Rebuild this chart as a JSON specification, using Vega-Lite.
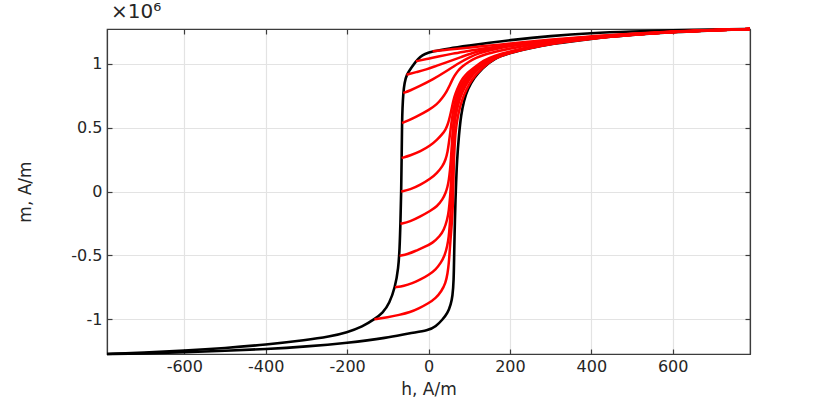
{
  "$schema": "https://vega.github.io/schema/vega-lite/v6.json",
  "width": 643,
  "height": 325,
  "autosize": "none",
  "padding": {"left": 107, "top": 29, "right": 80, "bottom": 44},
  "background": "white",
  "title": {"text": "×10⁶", "anchor": "start", "frame": "group", "fontSize": 20, "font": "DejaVu Sans", "fontWeight": "normal", "color": "#262626", "offset": 2, "dx": 4},
  "datasets": {
    "loop": [
      {"c":"D","h":790,"m":1272000},{"c":"D","h":700,"m":1267000},{"c":"D","h":600,"m":1262000},{"c":"D","h":500,"m":1253000},{"c":"D","h":400,"m":1241000},{"c":"D","h":300,"m":1218000},{"c":"D","h":200,"m":1185000},{"c":"D","h":150,"m":1164000},{"c":"D","h":100,"m":1142000},{"c":"D","h":50,"m":1120000},{"c":"D","h":10,"m":1097000},{"c":"D","h":-10,"m":1076000},{"c":"D","h":-20,"m":1056000},{"c":"D","h":-31,"m":1019000},{"c":"D","h":-42,"m":970000},{"c":"D","h":-54,"m":914000},{"c":"D","h":-59,"m":850000},{"c":"D","h":-62,"m":771000},{"c":"D","h":-64,"m":650000},{"c":"D","h":-65,"m":536000},{"c":"D","h":-66,"m":262000},{"c":"D","h":-67,"m":0},{"c":"D","h":-69,"m":-253000},{"c":"D","h":-71,"m":-450000},{"c":"D","h":-74,"m":-600000},{"c":"D","h":-82,"m":-750000},{"c":"D","h":-96,"m":-875000},{"c":"D","h":-112,"m":-950000},{"c":"D","h":-133,"m":-1000000},{"c":"D","h":-162,"m":-1058000},{"c":"D","h":-200,"m":-1103000},{"c":"D","h":-244,"m":-1136000},{"c":"D","h":-300,"m":-1163000},{"c":"D","h":-400,"m":-1199000},{"c":"D","h":-500,"m":-1226000},{"c":"D","h":-600,"m":-1246000},{"c":"D","h":-700,"m":-1261000},{"c":"D","h":-790,"m":-1272000},
      {"c":"A","h":-790,"m":-1272000},{"c":"A","h":-700,"m":-1268000},{"c":"A","h":-600,"m":-1258000},{"c":"A","h":-500,"m":-1247000},{"c":"A","h":-400,"m":-1234000},{"c":"A","h":-300,"m":-1214000},{"c":"A","h":-200,"m":-1186000},{"c":"A","h":-100,"m":-1145000},{"c":"A","h":-48,"m":-1110000},{"c":"A","h":0,"m":-1088000},{"c":"A","h":18,"m":-1058000},{"c":"A","h":35,"m":-1000000},{"c":"A","h":47,"m":-953000},{"c":"A","h":55,"m":-880000},{"c":"A","h":59,"m":-823000},{"c":"A","h":62,"m":-700000},{"c":"A","h":63,"m":-500000},{"c":"A","h":65,"m":-200000},{"c":"A","h":67,"m":0},{"c":"A","h":70,"m":250000},{"c":"A","h":75,"m":450000},{"c":"A","h":80,"m":600000},{"c":"A","h":87,"m":710000},{"c":"A","h":96,"m":800000},{"c":"A","h":112,"m":890000},{"c":"A","h":132,"m":965000},{"c":"A","h":160,"m":1040000},{"c":"A","h":200,"m":1085000},{"c":"A","h":250,"m":1122000},{"c":"A","h":300,"m":1155000},{"c":"A","h":400,"m":1197000},{"c":"A","h":500,"m":1226000},{"c":"A","h":600,"m":1248000},{"c":"A","h":700,"m":1262000},{"c":"A","h":790,"m":1272000}
    ],
    "forc": [
      {"c":"c1","h":10,"m":1097000},{"c":"c1","h":50,"m":1112000},{"c":"c1","h":92,"m":1124000},{"c":"c1","h":130,"m":1137000},{"c":"c1","h":173,"m":1149000},{"c":"c1","h":220,"m":1165000},{"c":"c1","h":300,"m":1190000},{"c":"c1","h":400,"m":1215000},{"c":"c1","h":500,"m":1236000},{"c":"c1","h":600,"m":1254000},{"c":"c1","h":700,"m":1265000},{"c":"c1","h":790,"m":1272000},
      {"c":"c2","h":-31,"m":1019000},{"c":"c2","h":0,"m":1040000},{"c":"c2","h":26,"m":1058000},{"c":"c2","h":60,"m":1080000},{"c":"c2","h":92,"m":1097000},{"c":"c2","h":130,"m":1118000},{"c":"c2","h":173,"m":1137000},{"c":"c2","h":220,"m":1157000},{"c":"c2","h":300,"m":1185000},{"c":"c2","h":400,"m":1212000},{"c":"c2","h":500,"m":1234000},{"c":"c2","h":600,"m":1252000},{"c":"c2","h":700,"m":1264000},{"c":"c2","h":790,"m":1272000},
      {"c":"c3","h":-54,"m":914000},{"c":"c3","h":-30,"m":935000},{"c":"c3","h":-6,"m":954000},{"c":"c3","h":20,"m":985000},{"c":"c3","h":51,"m":1019000},{"c":"c3","h":80,"m":1052000},{"c":"c3","h":108,"m":1085000},{"c":"c3","h":140,"m":1110000},{"c":"c3","h":173,"m":1130000},{"c":"c3","h":220,"m":1153000},{"c":"c3","h":300,"m":1182000},{"c":"c3","h":400,"m":1210000},{"c":"c3","h":500,"m":1232000},{"c":"c3","h":600,"m":1251000},{"c":"c3","h":700,"m":1264000},{"c":"c3","h":790,"m":1272000},
      {"c":"c4","h":-62,"m":771000},{"c":"c4","h":-45,"m":790000},{"c":"c4","h":-23,"m":823000},{"c":"c4","h":10,"m":875000},{"c":"c4","h":43,"m":940000},{"c":"c4","h":60,"m":975000},{"c":"c4","h":75,"m":1006000},{"c":"c4","h":100,"m":1050000},{"c":"c4","h":124,"m":1083000},{"c":"c4","h":150,"m":1105000},{"c":"c4","h":173,"m":1122000},{"c":"c4","h":220,"m":1148000},{"c":"c4","h":300,"m":1179000},{"c":"c4","h":400,"m":1208000},{"c":"c4","h":500,"m":1231000},{"c":"c4","h":600,"m":1250000},{"c":"c4","h":700,"m":1263000},{"c":"c4","h":790,"m":1272000},
      {"c":"c5","h":-65,"m":536000},{"c":"c5","h":-50,"m":555000},{"c":"c5","h":-31,"m":583000},{"c":"c5","h":2,"m":640000},{"c":"c5","h":20,"m":680000},{"c":"c5","h":34,"m":732000},{"c":"c5","h":45,"m":785000},{"c":"c5","h":51,"m":823000},{"c":"c5","h":57,"m":865000},{"c":"c5","h":63,"m":901000},{"c":"c5","h":72,"m":945000},{"c":"c5","h":83,"m":980000},{"c":"c5","h":100,"m":1017000},{"c":"c5","h":116,"m":1045000},{"c":"c5","h":140,"m":1075000},{"c":"c5","h":173,"m":1100000},{"c":"c5","h":220,"m":1133000},{"c":"c5","h":300,"m":1171000},{"c":"c5","h":400,"m":1204000},{"c":"c5","h":500,"m":1229000},{"c":"c5","h":600,"m":1249000},{"c":"c5","h":700,"m":1263000},{"c":"c5","h":790,"m":1272000},
      {"c":"c6","h":-66,"m":262000},{"c":"c6","h":-45,"m":282000},{"c":"c6","h":-20,"m":313000},{"c":"c6","h":5,"m":360000},{"c":"c6","h":21,"m":405000},{"c":"c6","h":33,"m":445000},{"c":"c6","h":42,"m":484000},{"c":"c6","h":48,"m":530000},{"c":"c6","h":53,"m":590000},{"c":"c6","h":58,"m":666000},{"c":"c6","h":63,"m":740000},{"c":"c6","h":70,"m":797000},{"c":"c6","h":79,"m":865000},{"c":"c6","h":92,"m":920000},{"c":"c6","h":112,"m":970000},{"c":"c6","h":135,"m":1025000},{"c":"c6","h":160,"m":1062000},{"c":"c6","h":200,"m":1097000},{"c":"c6","h":250,"m":1132000},{"c":"c6","h":300,"m":1163000},{"c":"c6","h":400,"m":1202000},{"c":"c6","h":500,"m":1228000},{"c":"c6","h":600,"m":1249000},{"c":"c6","h":700,"m":1263000},{"c":"c6","h":790,"m":1272000},
      {"c":"c7","h":-67,"m":0},{"c":"c7","h":-45,"m":15000},{"c":"c7","h":-20,"m":52000},{"c":"c7","h":5,"m":100000},{"c":"c7","h":21,"m":144000},{"c":"c7","h":35,"m":200000},{"c":"c7","h":42,"m":248000},{"c":"c7","h":47,"m":310000},{"c":"c7","h":50,"m":379000},{"c":"c7","h":53,"m":450000},{"c":"c7","h":56,"m":530000},{"c":"c7","h":59,"m":600000},{"c":"c7","h":63,"m":670000},{"c":"c7","h":69,"m":750000},{"c":"c7","h":77,"m":820000},{"c":"c7","h":90,"m":890000},{"c":"c7","h":110,"m":955000},{"c":"c7","h":135,"m":1012000},{"c":"c7","h":160,"m":1055000},{"c":"c7","h":200,"m":1093000},{"c":"c7","h":250,"m":1130000},{"c":"c7","h":300,"m":1162000},{"c":"c7","h":400,"m":1201000},{"c":"c7","h":500,"m":1228000},{"c":"c7","h":600,"m":1249000},{"c":"c7","h":700,"m":1263000},{"c":"c7","h":790,"m":1272000},
      {"c":"c8","h":-69,"m":-253000},{"c":"c8","h":-45,"m":-235000},{"c":"c8","h":-20,"m":-196000},{"c":"c8","h":5,"m":-150000},{"c":"c8","h":21,"m":-118000},{"c":"c8","h":35,"m":-60000},{"c":"c8","h":42,"m":-13000},{"c":"c8","h":47,"m":40000},{"c":"c8","h":50,"m":90000},{"c":"c8","h":53,"m":170000},{"c":"c8","h":55,"m":250000},{"c":"c8","h":57,"m":350000},{"c":"c8","h":59,"m":450000},{"c":"c8","h":61,"m":530000},{"c":"c8","h":64,"m":610000},{"c":"c8","h":68,"m":690000},{"c":"c8","h":75,"m":775000},{"c":"c8","h":88,"m":860000},{"c":"c8","h":108,"m":940000},{"c":"c8","h":133,"m":1005000},{"c":"c8","h":160,"m":1050000},{"c":"c8","h":200,"m":1091000},{"c":"c8","h":250,"m":1128000},{"c":"c8","h":300,"m":1160000},{"c":"c8","h":400,"m":1200000},{"c":"c8","h":500,"m":1227000},{"c":"c8","h":600,"m":1249000},{"c":"c8","h":700,"m":1263000},{"c":"c8","h":790,"m":1272000},
      {"c":"c9","h":-71,"m":-504000},{"c":"c9","h":-50,"m":-490000},{"c":"c9","h":-30,"m":-462000},{"c":"c9","h":-10,"m":-435000},{"c":"c9","h":10,"m":-404000},{"c":"c9","h":28,"m":-350000},{"c":"c9","h":38,"m":-300000},{"c":"c9","h":46,"m":-222000},{"c":"c9","h":50,"m":-150000},{"c":"c9","h":53,"m":-50000},{"c":"c9","h":55,"m":50000},{"c":"c9","h":57,"m":170000},{"c":"c9","h":59,"m":300000},{"c":"c9","h":60,"m":420000},{"c":"c9","h":62,"m":520000},{"c":"c9","h":65,"m":600000},{"c":"c9","h":70,"m":680000},{"c":"c9","h":77,"m":760000},{"c":"c9","h":88,"m":840000},{"c":"c9","h":106,"m":925000},{"c":"c9","h":132,"m":995000},{"c":"c9","h":160,"m":1047000},{"c":"c9","h":200,"m":1089000},{"c":"c9","h":250,"m":1126000},{"c":"c9","h":300,"m":1159000},{"c":"c9","h":400,"m":1199000},{"c":"c9","h":500,"m":1227000},{"c":"c9","h":600,"m":1249000},{"c":"c9","h":700,"m":1263000},{"c":"c9","h":790,"m":1272000},
      {"c":"c10","h":-82,"m":-750000},{"c":"c10","h":-60,"m":-740000},{"c":"c10","h":-40,"m":-718000},{"c":"c10","h":-20,"m":-690000},{"c":"c10","h":1,"m":-653000},{"c":"c10","h":18,"m":-610000},{"c":"c10","h":30,"m":-561000},{"c":"c10","h":40,"m":-500000},{"c":"c10","h":46,"m":-431000},{"c":"c10","h":50,"m":-350000},{"c":"c10","h":52,"m":-274000},{"c":"c10","h":54,"m":-180000},{"c":"c10","h":56,"m":-50000},{"c":"c10","h":58,"m":100000},{"c":"c10","h":59.5,"m":250000},{"c":"c10","h":61,"m":400000},{"c":"c10","h":63,"m":500000},{"c":"c10","h":66,"m":580000},{"c":"c10","h":71,"m":660000},{"c":"c10","h":79,"m":745000},{"c":"c10","h":90,"m":825000},{"c":"c10","h":108,"m":915000},{"c":"c10","h":132,"m":990000},{"c":"c10","h":160,"m":1045000},{"c":"c10","h":200,"m":1088000},{"c":"c10","h":250,"m":1125000},{"c":"c10","h":300,"m":1158000},{"c":"c10","h":400,"m":1199000},{"c":"c10","h":500,"m":1227000},{"c":"c10","h":600,"m":1249000},{"c":"c10","h":700,"m":1263000},{"c":"c10","h":790,"m":1272000},
      {"c":"c11","h":-133,"m":-1000000},{"c":"c11","h":-100,"m":-985000},{"c":"c11","h":-72,"m":-966000},{"c":"c11","h":-45,"m":-945000},{"c":"c11","h":-23,"m":-914000},{"c":"c11","h":0,"m":-875000},{"c":"c11","h":18,"m":-835000},{"c":"c11","h":32,"m":-780000},{"c":"c11","h":42,"m":-718000},{"c":"c11","h":47,"m":-640000},{"c":"c11","h":50,"m":-561000},{"c":"c11","h":52,"m":-470000},{"c":"c11","h":54,"m":-379000},{"c":"c11","h":56,"m":-300000},{"c":"c11","h":58,"m":-222000},{"c":"c11","h":60,"m":-100000},{"c":"c11","h":61,"m":50000},{"c":"c11","h":62,"m":200000},{"c":"c11","h":64,"m":350000},{"c":"c11","h":66,"m":450000},{"c":"c11","h":69,"m":530000},{"c":"c11","h":74,"m":620000},{"c":"c11","h":81,"m":705000},{"c":"c11","h":92,"m":795000},{"c":"c11","h":108,"m":885000},{"c":"c11","h":130,"m":960000},{"c":"c11","h":160,"m":1042000},{"c":"c11","h":200,"m":1087000},{"c":"c11","h":250,"m":1124000},{"c":"c11","h":300,"m":1157000},{"c":"c11","h":400,"m":1198000},{"c":"c11","h":500,"m":1227000},{"c":"c11","h":600,"m":1249000},{"c":"c11","h":700,"m":1263000},{"c":"c11","h":790,"m":1272000}
    ]
  },
  "config": {
    "view": {"stroke": "#3c3c3c", "strokeWidth": 1.2},
    "axis": {
      "labelFont": "DejaVu Sans",
      "titleFont": "DejaVu Sans",
      "labelFontSize": 16,
      "titleFontSize": 17,
      "titleFontWeight": "normal",
      "labelColor": "#262626",
      "titleColor": "#262626",
      "domainColor": "#3c3c3c",
      "domainWidth": 1.2,
      "tickColor": "#3c3c3c",
      "tickWidth": 1.2,
      "tickSize": -5,
      "gridColor": "#e3e3e3",
      "gridWidth": 1.2
    }
  },
  "layer": [
    {
      "data": {"name": "loop"},
      "mark": {"type": "line", "color": "#000000", "strokeWidth": 2.6, "interpolate": "basis"},
      "encoding": {
        "x": {"field": "h", "type": "quantitative", "scale": {"domain": [-790, 790], "nice": false, "zero": false},
              "axis": {"orient": "bottom", "values": [-600, -400, -200, 0, 200, 400, 600], "title": "h, A/m", "grid": true, "labelPadding": 9, "titlePadding": 7,
                       "labelExpr": "datum.value == 0 ? '0' : (datum.value < 0 ? '-' : '') + format(abs(datum.value), 'd')"}},
        "y": {"field": "m", "type": "quantitative", "scale": {"domain": [-1272000, 1272000], "nice": false, "zero": false},
              "axis": {"orient": "left", "values": [-1000000, -500000, 0, 500000, 1000000], "title": "m, A/m", "grid": true, "labelPadding": 10, "titlePadding": 36,
                       "labelExpr": "datum.value == 0 ? '0' : (datum.value < 0 ? '-' : '') + format(abs(datum.value) / 1000000, '~g')"}},
        "detail": {"field": "c"}
      }
    },
    {
      "data": {"name": "forc"},
      "mark": {"type": "line", "color": "#ff0000", "strokeWidth": 2.5, "interpolate": "basis"},
      "encoding": {
        "x": {"field": "h", "type": "quantitative",
              "axis": {"orient": "top", "values": [-600, -400, -200, 0, 200, 400, 600], "title": null, "labels": false, "grid": false}},
        "y": {"field": "m", "type": "quantitative",
              "axis": {"orient": "right", "values": [-1000000, -500000, 0, 500000, 1000000], "title": null, "labels": false, "grid": false}},
        "detail": {"field": "c"}
      }
    }
  ],
  "resolve": {"axis": {"x": "independent", "y": "independent"}}
}
